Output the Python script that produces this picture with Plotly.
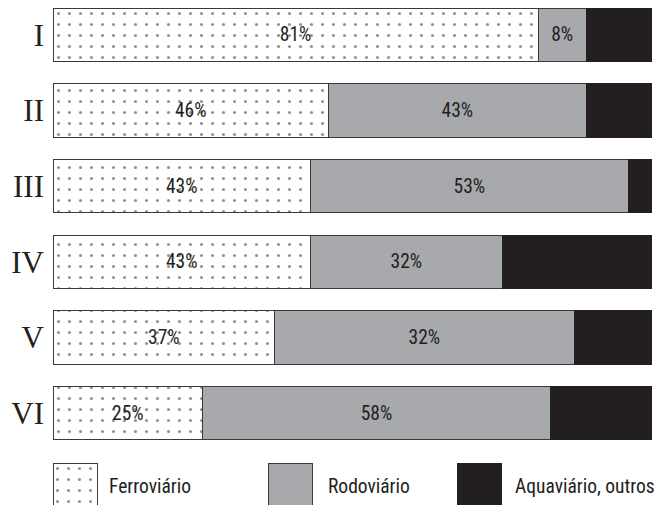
import plotly.graph_objects as go

categories = ["I", "II", "III", "IV", "V", "VI"]
ferroviario = [81, 46, 43, 43, 37, 25]
rodoviario = [8, 43, 53, 32, 50, 58]
aquaviario = [11, 11, 4, 25, 13, 17]
ferro_labels = ["81%", "46%", "43%", "43%", "37%", "25%"]
rodo_labels = ["8%", "43%", "53%", "32%", "32%", "58%"]
aqua_labels = ["", "", "", "", "", ""]
series_names = ["Ferroviário", "Rodoviário", "Aquaviário, outros"]

# page body has an 8px margin, so the figure is sized to the visible area
W, H = 654, 497
DARK = "#231f20"
GRAY = "#a7a9ac"
LINE = "#3a3a3a"
txt_font = dict(family="Roboto Condensed, Liberation Sans Narrow, Roboto, sans-serif", size=19.5, color=DARK)

fig = go.Figure()
fig.add_trace(go.Bar(
    y=categories, x=ferroviario, orientation="h", name=series_names[0],
    text=ferro_labels, textposition="inside", insidetextanchor="middle",
    textfont=txt_font, textangle=0,
    marker=dict(color="white", line=dict(color=LINE, width=1),
                pattern=dict(shape=".", fgcolor=DARK, bgcolor="white", size=11, solidity=0.06)),
))
fig.add_trace(go.Bar(
    y=categories, x=rodoviario, orientation="h", name=series_names[1],
    text=rodo_labels, textposition="inside", insidetextanchor="middle",
    textfont=txt_font, textangle=0,
    marker=dict(color=GRAY, line=dict(color=LINE, width=1)),
))
fig.add_trace(go.Bar(
    y=categories, x=aquaviario, orientation="h", name=series_names[2],
    text=aqua_labels, textposition="none",
    marker=dict(color=DARK, line=dict(color=DARK, width=1)),
))

# legend swatches on an auxiliary axis
legend_box_x = [67.5, 282, 471.5]
fig.add_trace(go.Bar(
    x=[legend_box_x[0]], y=[1.3], base=[-0.3], width=[44], xaxis="x2", yaxis="y2",
    marker=dict(color="white", line=dict(color=LINE, width=1),
                pattern=dict(shape=".", fgcolor=DARK, bgcolor="white", size=11, solidity=0.06)),
    showlegend=False, hoverinfo="skip"))
fig.add_trace(go.Bar(
    x=[legend_box_x[1]], y=[1.3], base=[-0.3], width=[44], xaxis="x2", yaxis="y2",
    marker=dict(color=GRAY, line=dict(color=LINE, width=1)),
    showlegend=False, hoverinfo="skip"))
fig.add_trace(go.Bar(
    x=[legend_box_x[2]], y=[1.3], base=[-0.3], width=[44], xaxis="x2", yaxis="y2",
    marker=dict(color=DARK, line=dict(color=DARK, width=1)),
    showlegend=False, hoverinfo="skip"))

legend_text_x = [99, 318, 505]
for name, lx in zip(series_names, legend_text_x):
    fig.add_annotation(x=lx / W, y=1 - 478 / H, xref="paper", yref="paper",
                       text=name, showarrow=False, xanchor="left", yanchor="middle",
                       font=txt_font)

fig.update_layout(
    width=W, height=H, barmode="stack", bargap=0.296,
    margin=dict(l=0, r=0, t=0, b=0, autoexpand=False),
    paper_bgcolor="white", plot_bgcolor="white",
    showlegend=False,
    xaxis=dict(domain=[45 / W, 644 / W], range=[0, 100], visible=False, fixedrange=True,
               automargin=False),
    yaxis=dict(domain=[1 - 442 / H, 1], type="category", categoryarray=categories,
               range=[5.489, -0.357], showgrid=False, zeroline=False, showline=False,
               ticks="", ticklabelstandoff=8, automargin=False,
               tickfont=dict(family="Liberation Serif, DejaVu Serif, serif", size=31, color=DARK)),
    xaxis2=dict(domain=[0, 1], range=[0, W], visible=False, anchor="y2", automargin=False),
    yaxis2=dict(domain=[0, 42 / H], range=[0, 1], visible=False, anchor="x2", automargin=False),
)

fig.write_html("out.html")
